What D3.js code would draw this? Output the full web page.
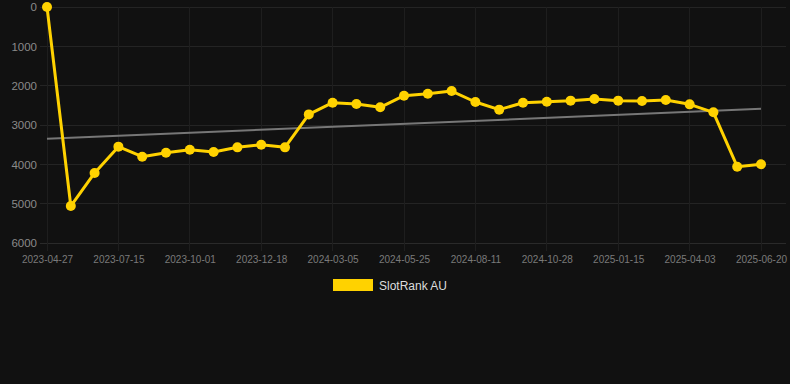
<!DOCTYPE html>
<html><head><meta charset="utf-8">
<script src="https://cdn.jsdelivr.net/npm/d3@7"></script>
<style>
html,body{margin:0;padding:0;background:#111111;}
svg{display:block;font-family:"Liberation Sans",Arial,Helvetica,sans-serif;}
</style></head>
<body>
<svg id="chart" width="790" height="384"></svg>
<script>
const dates = ["2023-04-27","2023-05-23","2023-06-19","2023-07-15","2023-08-10","2023-09-05","2023-10-01","2023-10-27","2023-11-22","2023-12-18","2024-01-13","2024-02-08","2024-03-05","2024-03-31","2024-04-28","2024-05-25","2024-06-20","2024-07-16","2024-08-11","2024-09-06","2024-10-02","2024-10-28","2024-11-23","2024-12-20","2025-01-15","2025-02-10","2025-03-08","2025-04-03","2025-04-29","2025-05-25","2025-06-20"];
const rankAU = [0,5060,4220,3550,3805,3705,3628,3687,3568,3500,3568,2730,2433,2466,2551,2255,2204,2136,2415,2610,2433,2407,2381,2339,2381,2390,2365,2475,2678,4060,4000];
const trendEnds = [3350,2590];
const yTicks = [0,1000,2000,3000,4000,5000,6000];
const xTickLabels = ["2023-04-27","2023-07-15","2023-10-01","2023-12-18","2024-03-05","2024-05-25","2024-08-11","2024-10-28","2025-01-15","2025-04-03","2025-06-20"];
const seriesName = "SlotRank AU";

const svg = d3.select("#chart");
const x = d3.scalePoint().domain(dates).range([47,761]);
const y = d3.scaleLinear().domain([0,6000]).range([7,243]);
const gridColor = "#242424";

// horizontal grid
svg.append("g").selectAll("line").data(yTicks).join("line")
  .attr("x1",40).attr("x2",786)
  .attr("y1",d=>y(d)).attr("y2",d=>y(d))
  .attr("stroke",d=>d===6000?"#2a2a2a":gridColor).attr("stroke-width",1).attr("shape-rendering","crispEdges");
// vertical grid
svg.append("g").selectAll("line").data(xTickLabels).join("line")
  .attr("x1",d=>x(d)).attr("x2",d=>x(d))
  .attr("y1",y(0)).attr("y2",y(6000)+8)
  .attr("stroke","#1e1e1e").attr("stroke-width",1).attr("shape-rendering","crispEdges");

// y axis labels
const yAxis = d3.axisLeft(y).tickValues(yTicks).tickSize(0).tickPadding(0).tickFormat(d3.format("d"));
const gy = svg.append("g").attr("transform","translate(37,0)").call(yAxis);
gy.select(".domain").remove();
gy.selectAll("text").attr("fill","#8a8a8a").attr("font-size","11.5px").attr("font-family","Liberation Sans, Arial, sans-serif");

// x axis labels
const xAxis = d3.axisBottom(x).tickValues(xTickLabels).tickSize(0).tickPadding(0);
const gx = svg.append("g").attr("transform","translate(0,255.5)").call(xAxis);
gx.select(".domain").remove();
gx.selectAll("text").attr("fill","#7a7a7a").attr("font-size","10px").attr("font-family","Liberation Sans, Arial, sans-serif");

// trend line
svg.append("line")
  .attr("x1",x(dates[0])).attr("x2",x(dates[dates.length-1]))
  .attr("y1",y(trendEnds[0])).attr("y2",y(trendEnds[1]))
  .attr("stroke","#777777").attr("stroke-width",2);

// series line
const line = d3.line().x((d,i)=>x(dates[i])).y(d=>y(d));
svg.append("path").datum(rankAU).attr("d",line)
  .attr("fill","none").attr("stroke","#FFD200").attr("stroke-width",3).attr("stroke-linejoin","round");
svg.append("g").selectAll("circle").data(rankAU).join("circle")
  .attr("cx",(d,i)=>x(dates[i])).attr("cy",d=>y(d)).attr("r",5)
  .attr("fill","#FFD200");

// legend
const lg = svg.append("g");
lg.append("rect").attr("x",333).attr("y",279).attr("width",40).attr("height",12).attr("fill","#FFD200");
lg.append("text").attr("x",379).attr("y",289.5).text(seriesName)
  .attr("fill","#dddddd").attr("font-size","12px");
</script>
</body></html>
